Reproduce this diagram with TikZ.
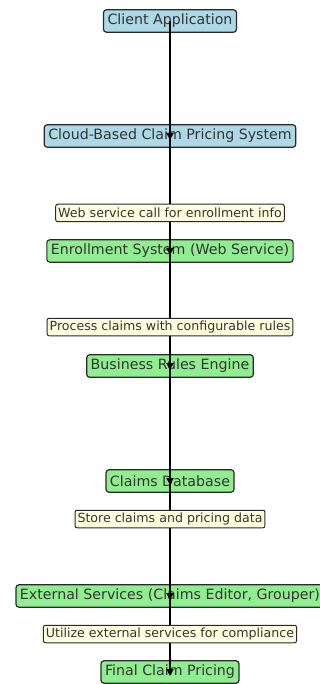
\documentclass[tikz,border=0pt]{standalone}
\usepackage{fontspec}
\setmainfont{DejaVu Sans}
\usetikzlibrary{arrows.meta}

\definecolor{boxblue}{HTML}{ADD8E6}
\definecolor{boxgreen}{HTML}{90EE90}
\definecolor{notebg}{HTML}{FFFFE0}
\definecolor{inkgray}{HTML}{333333}

\begin{document}
\begin{tikzpicture}[x=1pt,y=-1pt,
  stage/.style={draw=inkgray!80!black,rounded corners=3pt,line width=1.2pt,
    text=inkgray,font=\fontsize{14.2}{15}\selectfont,inner xsep=4pt,
    inner ysep=0pt,minimum height=22.5pt},
  cloudstage/.style={stage,fill=boxblue},
  greenstage/.style={stage,fill=boxgreen},
  note/.style={draw=inkgray!80!black,rounded corners=2pt,line width=1pt,
    fill=notebg,text=inkgray,font=\fontsize{12.6}{13}\selectfont,
    inner xsep=2.5pt,inner ysep=0pt,minimum height=17.5pt},
  flow/.style={line width=1.7pt,-{Triangle[length=7pt,width=7pt]}}]
\useasboundingbox (0,0) rectangle (320,684);
\fill[white] (0,0) rectangle (320,684);
% stages
\node [cloudstage] (client) at (170,21) {Client Application};
\node [cloudstage] (cloud) at (170,136) {Cloud-Based Claim Pricing System};
\node [greenstage] (enroll) at (170,251) {Enrollment System (Web Service)};
\node [greenstage] (rules) at (170,366) {Business Rules Engine};
\node [greenstage] (db) at (170,481) {Claims Database};
\node [greenstage] (ext) at (170,596) {External Services (Claims Editor, Grouper)};
\node [greenstage] (final) at (170,672) {Final Claim Pricing};
% flow, centre to centre
\draw [flow] (client.center) -- ([yshift=-4pt]cloud.center);
\draw [flow] (cloud.center) -- ([yshift=-4pt]enroll.center);
\draw [flow] (enroll.center) -- ([yshift=-4pt]rules.center);
\draw [flow] (rules.center) -- ([yshift=-4pt]db.center);
\draw [flow] (db.center) -- ([yshift=-4pt]ext.center);
\draw [flow] (ext.center) -- ([yshift=-4pt]final.center);
% notes on the edges
\node [note] (webcall) at (170,213) {Web service call for enrollment info};
\node [note] (process) at (170,327) {Process claims with configurable rules};
\node [note] (store) at (170,519) {Store claims and pricing data};
\node [note] (utilize) at (170,634) {Utilize external services for compliance};
\end{tikzpicture}
\end{document}
